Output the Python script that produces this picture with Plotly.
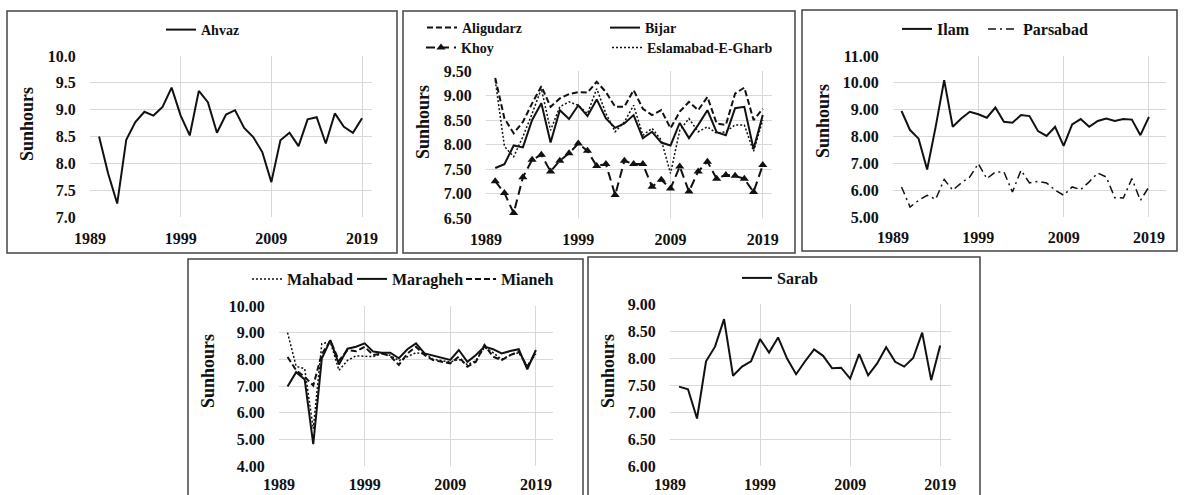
import plotly.graph_objects as go

W, H = 1184, 495
FONT = "Liberation Serif"

years = list(range(1990, 2020))

ahvaz = [8.50, 7.81, 7.25, 8.44, 8.77, 8.96, 8.89, 9.05, 9.41, 8.89,
         8.52, 9.35, 9.14, 8.57, 8.91, 8.99, 8.66, 8.49, 8.21, 7.65,
         8.43, 8.57, 8.32, 8.82, 8.86, 8.37, 8.93, 8.68, 8.57, 8.84]

aligudarz = [9.36, 8.53, 8.23, 8.46, 8.84, 9.19, 8.77, 8.94, 9.03, 9.07,
             9.06, 9.28, 9.07, 8.77, 8.77, 9.11, 8.73, 8.60, 8.70, 8.33,
             8.67, 8.87, 8.70, 8.97, 8.43, 8.40, 9.04, 9.16, 8.50, 8.73]
bijar = [7.52, 7.60, 7.98, 7.94, 8.50, 8.84, 8.04, 8.70, 8.52, 8.80,
         8.58, 8.92, 8.53, 8.34, 8.43, 8.60, 8.13, 8.26, 8.04, 7.98,
         8.44, 8.13, 8.40, 8.70, 8.25, 8.19, 8.74, 8.77, 7.91, 8.60]
khoy = [7.25, 7.01, 6.60, 7.33, 7.69, 7.79, 7.45, 7.67, 7.82, 8.02,
        7.87, 7.56, 7.60, 6.97, 7.67, 7.60, 7.60, 7.14, 7.28, 7.10,
        7.55, 7.04, 7.45, 7.65, 7.30, 7.38, 7.36, 7.30, 7.03, 7.58]
eslamabad = [9.31, 7.96, 7.75, 8.16, 8.63, 9.14, 8.29, 8.77, 8.87, 8.80,
             8.63, 9.14, 8.63, 8.26, 8.46, 8.80, 8.19, 8.33, 8.09, 7.41,
             8.29, 8.53, 8.26, 8.36, 8.23, 8.26, 8.40, 8.40, 7.86, 8.50]

ilam = [8.95, 8.24, 7.92, 6.77, 8.36, 10.10, 8.36, 8.67, 8.92, 8.83,
        8.70, 9.08, 8.55, 8.51, 8.80, 8.76, 8.20, 8.02, 8.36, 7.65,
        8.45, 8.65, 8.36, 8.58, 8.67, 8.58, 8.65, 8.63, 8.05, 8.73]
parsabad = [6.12, 5.37, 5.62, 5.81, 5.66, 6.40, 6.00, 6.27, 6.49, 6.99,
            6.43, 6.68, 6.68, 5.93, 6.74, 6.27, 6.33, 6.27, 6.00, 5.81,
            6.12, 6.02, 6.31, 6.64, 6.49, 5.72, 5.71, 6.43, 5.62, 6.12]

mahabad = [9.00, 7.74, 7.65, 5.40, 8.59, 8.65, 7.59, 7.96, 8.13, 8.12,
           8.10, 8.22, 8.15, 7.95, 8.10, 8.25, 8.20, 8.00, 7.95, 7.90,
           8.00, 7.80, 7.95, 8.45, 8.25, 8.00, 8.15, 8.25, 7.75, 8.20]
maragheh = [6.98, 7.52, 7.24, 4.82, 8.03, 8.72, 7.81, 8.40, 8.47, 8.60,
            8.29, 8.25, 8.25, 8.04, 8.38, 8.60, 8.22, 8.14, 8.06, 7.98,
            8.35, 7.91, 8.16, 8.48, 8.38, 8.22, 8.31, 8.38, 7.62, 8.35]
mianeh = [8.09, 7.59, 7.34, 7.02, 8.20, 8.70, 7.95, 8.35, 8.30, 8.47,
          8.16, 8.22, 8.12, 7.79, 8.22, 8.47, 8.16, 7.97, 7.91, 7.85,
          8.10, 7.72, 7.91, 8.54, 8.10, 7.97, 8.16, 8.29, 7.72, 8.29]

sarab = [7.47, 7.42, 6.88, 7.94, 8.21, 8.72, 7.67, 7.84, 7.94, 8.35,
         8.10, 8.38, 7.99, 7.70, 7.94, 8.16, 8.04, 7.81, 7.82, 7.62,
         8.07, 7.68, 7.90, 8.20, 7.93, 7.84, 8.00, 8.47, 7.59, 8.23]

x_ticks = [1989, 1999, 2009, 2019]
y_title = "Sunhours"

BLACK = "#111111"
GRID = "#d9d9d9"


def px_x(p):
    return p / W


def px_y(p):
    return 1 - p / H


fig = go.Figure()

# panel definitions: (axis suffix, x px range, y px range, x range, y range, dtick, fmt, x ticklen)
panels = [
    ("", (90, 372), (56, 217), [1989, 2020.1], [7, 10], 0.5, ".1f", 7),
    ("2", (486, 772), (71, 218), [1989, 2020.0], [6.5, 9.5], 0.5, ".2f", 7),
    ("3", (893, 1166), (56, 217), [1989, 2021.0], [5, 11], 1, ".2f", 6),
    ("4", (279, 553), (306, 466), [1989, 2021.0], [4, 10], 1, ".2f", 4),
    ("5", (670, 951), (304, 466), [1989, 2020.2], [6, 9], 0.5, ".2f", 4),
]

tickfont = dict(family=FONT, size=16, color=BLACK, weight="bold")
layout_axes = {}
for suf, (xl, xr), (yt, yb), xr_, yr_, dt, fmt, xtl in panels:
    layout_axes["xaxis" + suf] = dict(
        domain=[px_x(xl), px_x(xr)], range=xr_, tickvals=x_ticks,
        showgrid=True, gridcolor=GRID, gridwidth=1, zeroline=False, showline=False,
        ticks="outside", ticklen=xtl, tickcolor="rgba(0,0,0,0)", tickfont=tickfont,
        anchor="y" + suf, fixedrange=True, automargin=False,
    )
    layout_axes["yaxis" + suf] = dict(
        domain=[px_y(yb), px_y(yt)], range=yr_, dtick=dt, tick0=yr_[0], tickformat=fmt,
        showgrid=True, gridcolor=GRID, gridwidth=1, zeroline=False, showline=False,
        ticks="outside", ticklen=10, tickcolor="rgba(0,0,0,0)", tickfont=tickfont,
        anchor="x" + suf, fixedrange=True, automargin=False,
    )


def add(y, name, suf, legend, dash="solid", width=2, mode="lines", marker=None):
    fig.add_trace(go.Scatter(
        x=years, y=y, name=name, mode=mode,
        line=dict(color=BLACK, width=width, dash=dash),
        marker=marker, xaxis="x" + suf, yaxis="y" + suf, legend=legend,
    ))


add(ahvaz, "Ahvaz", "", "legend")
add(aligudarz, "Aligudarz", "2", "legend2", dash="6px,3px")
add(bijar, "Bijar", "2", "legend3")
add(khoy, "Khoy", "2", "legend4", dash="9px,5px", mode="lines+markers",
    marker=dict(symbol="triangle-up", size=8, color=BLACK))
add(eslamabad, "Eslamabad-E-Gharb", "2", "legend5", dash="2px,2px", width=1.5)
add(ilam, "Ilam", "3", "legend6")
add(parsabad, "Parsabad", "3", "legend7", dash="8px,4px,2px,4px", width=1.5)
add(mahabad, "Mahabad", "4", "legend8", dash="2px,2px", width=1.5)
add(maragheh, "Maragheh", "4", "legend9")
add(mianeh, "Mianeh", "4", "legend10", dash="6px,3px")
add(sarab, "Sarab", "5", "legend11")

# legend placement (x so that the label starts ~40px to its right, center y), font size
leg_pos = {
    "legend": (161, 30, 14),
    "legend2": (422, 28, 14),
    "legend3": (605, 28, 14),
    "legend4": (421, 48, 14),
    "legend5": (607, 48, 14),
    "legend6": (897, 29, 16),
    "legend7": (983, 29, 16),
    "legend8": (247, 279, 16),
    "legend9": (352, 279, 16),
    "legend10": (461, 279, 16),
    "legend11": (737, 278, 16),
}
legends = {}
for k, (lx, ly, fs) in leg_pos.items():
    legends[k] = dict(
        x=px_x(lx), y=px_y(ly), xanchor="left", yanchor="middle",
        orientation="h", bgcolor="rgba(0,0,0,0)", borderwidth=0,
        font=dict(family=FONT, size=fs, color=BLACK, weight="bold"),
        itemwidth=30, itemclick=False, itemdoubleclick=False,
    )

# panel borders
borders = [(7, 11, 397, 253), (403, 11, 795, 253), (802, 10, 1177, 251),
           (188, 259, 583, 520), (588, 257, 980, 520)]
shapes = []
for x0, y0, x1, y1 in borders:
    shapes.append(dict(type="rect", xref="paper", yref="paper",
                       x0=px_x(x0), x1=px_x(x1), y0=px_y(y1), y1=px_y(y0),
                       line=dict(color="#444444", width=1.5), fillcolor="rgba(0,0,0,0)",
                       layer="below"))

# y titles
title_pos = [(27, 124), (423, 122), (823, 121), (208, 371), (608, 371)]
annotations = []
for tx, ty in title_pos:
    annotations.append(dict(text=y_title, xref="paper", yref="paper",
                            x=px_x(tx), y=px_y(ty), xanchor="center", yanchor="middle",
                            showarrow=False, textangle=-90,
                            font=dict(family=FONT, size=18, color=BLACK, weight="bold")))

fig.update_layout(
    width=W, height=H, margin=dict(l=0, r=0, t=0, b=0, autoexpand=False),
    paper_bgcolor="white", plot_bgcolor="white",
    showlegend=True, shapes=shapes, annotations=annotations,
    **layout_axes, **legends,
)

fig.write_html(
    "out.html", include_plotlyjs=True, config={"displayModeBar": False},
    post_script="document.body.style.margin='0';document.body.style.overflow='hidden';",
)
